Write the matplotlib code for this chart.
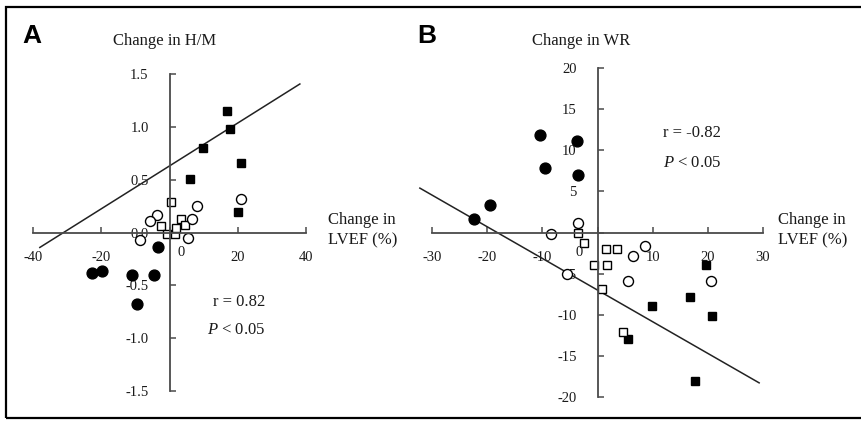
import matplotlib
matplotlib.use("Agg")
import matplotlib.pyplot as plt
import numpy as np
from matplotlib.patches import Rectangle

plt.rcParams['font.family'] = ['Liberation Serif', 'DejaVu Serif']
plt.rcParams['mathtext.fontset'] = 'custom'
plt.rcParams['mathtext.it'] = 'Liberation Serif:italic'
plt.rcParams['mathtext.rm'] = 'Liberation Serif'

# panel A: change in H/M vs change in LVEF
a_fsq_x = [16.8, 17.6, 9.7, 5.9, 20.9, 20.0]
a_fsq_y = [1.15, 0.98, 0.80, 0.51, 0.66, 0.19]
a_osq_x = [0.3, -2.6, -0.6, 1.5, 1.8, 3.5, 4.4]
a_osq_y = [0.29, 0.06, -0.01, -0.01, 0.04, 0.13, 0.07]
a_oci_x = [20.9, 8.2, -3.8, -5.6, 6.5, -8.5, 5.3]
a_oci_y = [0.32, 0.25, 0.17, 0.11, 0.13, -0.07, -0.05]
a_fci_x = [-3.5, -22.6, -19.7, -10.9, -4.4, -9.4]
a_fci_y = [-0.14, -0.38, -0.36, -0.40, -0.40, -0.68]
a_fit = (0.0203, 0.63)
a_fit_range = [-38, 38.2]

# panel B: change in WR vs change in LVEF
b_fci_x = [-10.4, -3.8, -9.5, -3.5, -19.4, -22.4]
b_fci_y = [11.8, 11.1, 7.8, 7.0, 3.4, 1.6]
b_fsq_x = [19.6, 16.7, 9.8, 20.7, 5.6, 17.6]
b_fsq_y = [-3.9, -7.8, -8.9, -10.2, -12.9, -18.0]
b_oci_x = [-8.4, -3.5, 8.7, 6.5, -5.6, 5.6, 20.5]
b_oci_y = [-0.2, 1.2, -1.6, -2.9, -5.0, -5.9, -5.9]
b_osq_x = [-3.6, -2.5, 1.5, 3.6, -0.6, 1.8, 0.8, 4.7]
b_osq_y = [-0.1, -1.3, -2.0, -2.0, -3.9, -3.9, -6.9, -12.1]
b_fit = (-0.385, -7.0)
b_fit_range = [-32.2, 29.3]

a_xticks = [-40, -20, 0, 20, 40]
a_yticks = [-1.5, -1.0, -0.5, 0.0, 0.5, 1.0, 1.5]
a_ylabels = ['-1.5', '-1.0', '-0.5', '0.0', '0.5', '1.0', '1.5']
b_xticks = [-30, -20, -10, 0, 10, 20, 30]
b_yticks = [-20, -15, -10, -5, 0, 5, 10, 15, 20]

W, H = 861, 421
fig = plt.figure(figsize=(W / 100, H / 100), dpi=100)
fig.patches.append(Rectangle((6 / W, 3 / H), 1, 411 / H, transform=fig.transFigure,
                             fill=False, edgecolor='black', linewidth=1.6))

axcol = '#4a4a4a'
txtcol = '#1a1a1a'


def setup(ax, xlim, ylim):
    ax.set_xlim(xlim)
    ax.set_ylim(ylim)
    ax.set_facecolor('none')
    for s in ['top', 'right']:
        ax.spines[s].set_visible(False)
    for s in ['left', 'bottom']:
        ax.spines[s].set_position('zero')
        ax.spines[s].set_color(axcol)
        ax.spines[s].set_linewidth(1.3)
    ax.tick_params(direction='in', length=4, width=1.1, color=axcol,
                   labelsize=10.5, labelcolor=txtcol)
    ax.tick_params(axis='x', pad=13)
    ax.tick_params(axis='y', pad=15)


def markers(ax, fsq, osq, oci, fci):
    ax.plot(*fsq, 's', ms=6.3, mfc='black', mec='black', ls='none', clip_on=False)
    ax.plot(*osq, 's', ms=5.5, mfc='white', mec='black', mew=1.0, ls='none', clip_on=False)
    ax.plot(*oci, 'o', ms=7.2, mfc='white', mec='black', mew=1.0, ls='none', clip_on=False)
    ax.plot(*fci, 'o', ms=7.8, mfc='black', mec='black', ls='none', clip_on=False)


# ---- panel A
axA = fig.add_axes([33 / W, 1 - 391 / H, 273 / W, 317 / H])
setup(axA, (-40, 40), (-1.5, 1.5))
axA.set_xticks(a_xticks, ['-40', '-20', '', '20', '40'])
axA.set_yticks(a_yticks, a_ylabels)
xs = np.array(a_fit_range)
axA.plot(xs, np.polyval(a_fit, xs), color='#222222', lw=1.1, clip_on=False)
markers(axA, (a_fsq_x, a_fsq_y), (a_osq_x, a_osq_y), (a_oci_x, a_oci_y), (a_fci_x, a_fci_y))
axA.text(181 / W, 1 - 252 / H, '0', transform=fig.transFigure, ha='center', va='center',
         fontsize=10.5, color=txtcol)

# ---- panel B
axB = fig.add_axes([432 / W, 1 - 397 / H, 331 / W, 329 / H])
setup(axB, (-30, 30), (-20, 20))
axB.set_xticks(b_xticks, ['-30', '-20', '-10', '', '10', '20', '30'])
axB.set_yticks(b_yticks, ['-20', '-15', '-10', '-5', '', '5', '10', '15', '20'])
xs = np.array(b_fit_range)
axB.plot(xs, np.polyval(b_fit, xs), color='#222222', lw=1.1, clip_on=False)
markers(axB, (b_fsq_x, b_fsq_y), (b_osq_x, b_osq_y), (b_oci_x, b_oci_y), (b_fci_x, b_fci_y))
axB.text(579 / W, 1 - 252 / H, '0', transform=fig.transFigure, ha='center', va='center',
         fontsize=10.5, color=txtcol)

# ---- labels
def ftext(x, y, s, **kw):
    kw.setdefault('color', txtcol)
    fig.text(x / W, 1 - y / H, s, **kw)

ftext(22, 36, 'A', fontsize=19, fontweight='bold', family=['Liberation Sans', 'DejaVu Sans'],
      va='center', color='black')
ftext(417, 36, 'B', fontsize=19, fontweight='bold', family=['Liberation Sans', 'DejaVu Sans'],
      va='center', color='black')
ftext(113, 41, 'Change in H/M', fontsize=12, va='center')
ftext(532, 41, 'Change in WR', fontsize=12, va='center')
ftext(328, 230, 'Change in\nLVEF (%)', fontsize=12, va='center', linespacing=1.35)
ftext(778, 230, 'Change in\nLVEF (%)', fontsize=12, va='center', linespacing=1.35)
ftext(213, 302, 'r = 0.82', fontsize=12, va='center')
ftext(207, 330, r'$\it{P}$ < 0.05', fontsize=12, va='center')
ftext(663, 133, 'r = -0.82', fontsize=12, va='center')
ftext(663, 163, r'$\it{P}$ < 0.05', fontsize=12, va='center')

fig.savefig('out.png', dpi=100)
